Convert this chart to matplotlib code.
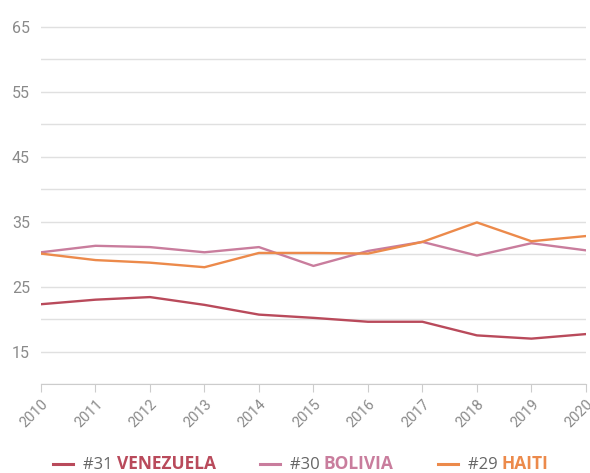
import matplotlib
matplotlib.use("Agg")
import matplotlib.pyplot as plt
from matplotlib.lines import Line2D

# Werte
years = [2010, 2011, 2012, 2013, 2014, 2015, 2016, 2017, 2018, 2019, 2020]
venezuela = [22.3, 23.0, 23.4, 22.2, 20.7, 20.2, 19.6, 19.6, 17.5, 17.0, 17.7]
bolivia = [30.3, 31.3, 31.1, 30.3, 31.1, 28.2, 30.5, 31.9, 29.8, 31.7, 30.6]
haiti = [30.1, 29.1, 28.7, 28.0, 30.2, 30.2, 30.1, 31.9, 34.9, 32.0, 32.8]

ranks = ["#31", "#30", "#29"]
names = ["VENEZUELA", "BOLIVIA", "HAITI"]
colors = ["#b94a5b", "#c97d9d", "#ec8a4b"]
y_ticks = [15, 25, 35, 45, 55, 65]

plt.rcParams['font.family'] = ['Open Sans', 'DejaVu Sans']

fig = plt.figure(figsize=(5.9, 4.73), dpi=100)
ax = fig.add_axes([0.0695, 0.188, 0.9235, 0.759])

for i in range(10, 70, 5):
    ax.axhline(i, color="#e0e0e0", lw=1, zorder=0)

for vals, c in zip([venezuela, bolivia, haiti], colors):
    ax.plot(years, vals, color=c, lw=1.7, solid_capstyle="round")

ax.set_xlim(2010, 2020)
ax.set_ylim(10, 65.3)
ax.set_xticks(years)
ax.set_xticklabels([str(y) for y in years], rotation=45, ha="right",
                   rotation_mode="anchor", fontsize=10.5, color="#8a8a8a",
                   family="Roboto")
ax.set_yticks(y_ticks)
ax.set_yticklabels([str(y) for y in y_ticks], fontsize=11.5, color="#8a8a8a",
                   family="Roboto")
ax.tick_params(axis="y", length=0, pad=8)
ax.tick_params(axis="x", length=6, color="#cccccc", pad=3)
for s in ["top", "right", "left"]:
    ax.spines[s].set_visible(False)
ax.spines["bottom"].set_color("#cccccc")

# Legende von Hand
leg_x = [0.09, 0.44, 0.742]
leg_y = 0.008
for x, r, n, c in zip(leg_x, ranks, names, colors):
    fig.add_artist(Line2D([x, x + 0.034], [leg_y + 0.012, leg_y + 0.012],
                          color=c, lw=2.2, transform=fig.transFigure))
    t = fig.text(x + 0.051, leg_y, r + " ", fontsize=12, color="#666666",
                 va="baseline")
    ax.annotate(n, xy=(1, 0), xycoords=t, fontsize=12.5, color=c,
                fontweight="bold", va="bottom", annotation_clip=False)

fig.savefig("out.png", dpi=100)
